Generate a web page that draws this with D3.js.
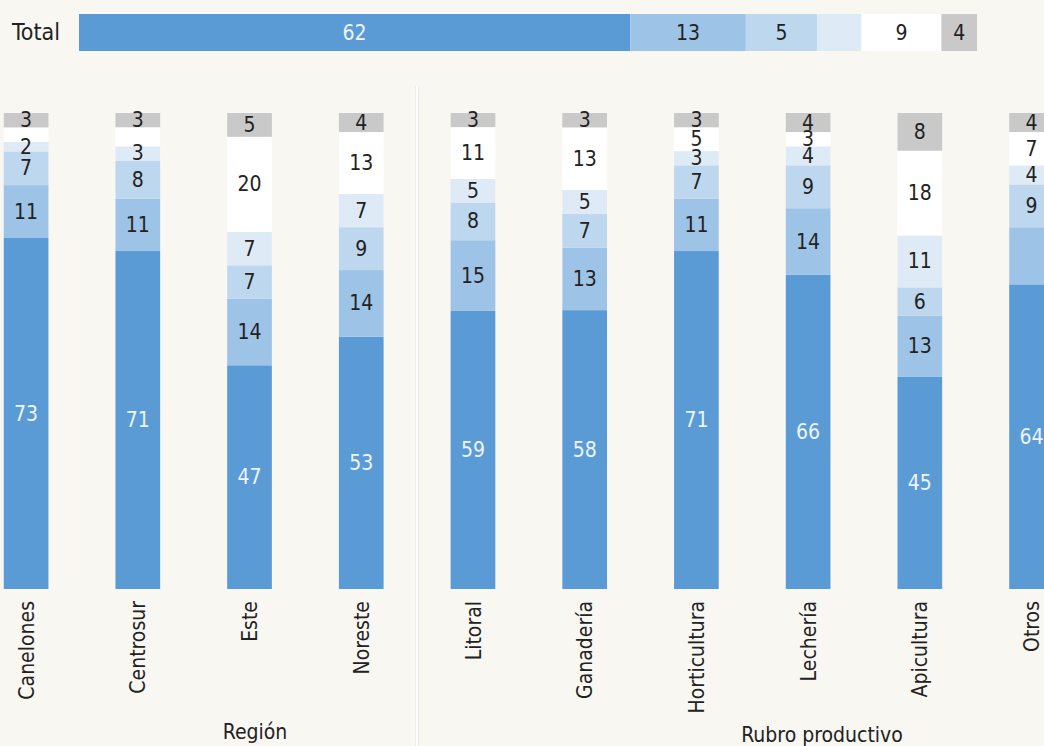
<!DOCTYPE html>
<html>
<head>
<meta charset="utf-8">
<script src="https://cdn.jsdelivr.net/npm/d3@7"></script>
<style>
  html, body { margin: 0; padding: 0; background: #f9f7f2; }
  svg { display: block; }
  text { font-family: "DejaVu Sans Condensed", "DejaVu Sans", sans-serif; font-stretch: condensed; }
</style>
</head>
<body>
<svg id="chart" width="1044" height="746"></svg>
<script>
// ---- Data ----
const categories = ["Canelones", "Centrosur", "Este", "Noreste", "Litoral", "Ganadería", "Horticultura", "Lechería", "Apicultura", "Otros"];
const groupRegion = ["Canelones", "Centrosur", "Este", "Noreste"];
const groupRubro = ["Litoral", "Ganadería", "Horticultura", "Lechería", "Apicultura", "Otros"];
const groupTitles = ["Región", "Rubro productivo"];

// series, stacked bottom to top
const seriesKeys = ["s1", "s2", "s3", "s4", "s5", "s6"];
const s1 = [73, 71, 47, 53, 59, 58, 71, 66, 45, 64];
const s2 = [11, 11, 14, 14, 15, 13, 11, 14, 13, 12];
const s3 = [7, 8, 7, 9, 8, 7, 7, 9, 6, 9];
const s4 = [2, 3, 7, 7, 5, 5, 3, 4, 11, 4];
const s5 = [3, 4, 20, 13, 11, 13, 5, 3, 18, 7];
const s6 = [3, 3, 5, 4, 3, 3, 3, 4, 8, 4];
// segments whose value label is not printed in the original
const hiddenLabels = [["Canelones", "s5"], ["Centrosur", "s5"], ["Otros", "s2"]];

const totalLabel = "Total";
const totalValues = [62, 13, 8, 5, 9, 4];
const totalLabels = ["62", "13", "5", "", "9", "4"];

const colors = ["#5b9bd5", "#9dc3e6", "#bdd7ee", "#deebf7", "#ffffff", "#c9c9c9"];

// ---- Build ----
const svg = d3.select("#chart");
const seriesArrays = [s1, s2, s3, s4, s5, s6];
const rows = categories.map((c, i) => {
  const r = { cat: c };
  seriesKeys.forEach((k, j) => r[k] = seriesArrays[j][i]);
  return r;
});
const color = d3.scaleOrdinal().domain(seriesKeys).range(colors);
const FS = 21;

// Total bar
const xT = d3.scaleLinear().domain([0, d3.sum(totalValues)]).range([79, 977]);
let acc = 0;
const totSegs = totalValues.map((v, i) => { const s = { x0: acc, x1: acc + v, i }; acc += v; return s; });
const gT = svg.append("g");
gT.selectAll("rect").data(totSegs).join("rect")
  .attr("x", d => xT(d.x0)).attr("width", d => xT(d.x1) - xT(d.x0))
  .attr("y", 14).attr("height", 37)
  .attr("fill", d => colors[d.i]);
gT.selectAll("text.v").data(totSegs).join("text").attr("class", "v")
  .attr("x", d => (xT(d.x0) + xT(d.x1)) / 2).attr("y", 33)
  .attr("dominant-baseline", "central").attr("text-anchor", "middle")
  .attr("font-size", FS)
  .attr("fill", d => d.i === 0 ? "#eef4fb" : "#222")
  .text(d => totalLabels[d.i]);
svg.append("text").attr("x", 12).attr("y", 32)
  .attr("dominant-baseline", "central").attr("font-size", 23).attr("fill", "#222")
  .text(totalLabel);

// Column chart
const x = d3.scaleBand().domain(categories).range([3.75, 1053.9]).paddingInner(0.6).paddingOuter(0);
const y = d3.scaleLinear().domain([0, 1]).range([589, 113]);
const stack = d3.stack().keys(seriesKeys).offset(d3.stackOffsetExpand);
const stacked = stack(rows);

// separator
const sepX = (x("Noreste") + x.bandwidth() + x("Litoral")) / 2;
svg.append("rect").attr("x", sepX - 2).attr("y", 86).attr("width", 4).attr("height", 660).attr("fill", "#efece6");
svg.append("rect").attr("x", sepX - 1).attr("y", 86).attr("width", 2).attr("height", 660).attr("fill", "#ffffff");

const hidden = new Set(hiddenLabels.map(h => h[0] + "|" + h[1]));
const layers = svg.append("g").selectAll("g").data(stacked).join("g")
  .attr("fill", d => color(d.key));
layers.selectAll("rect").data(d => d.map(p => ({ p, key: d.key }))).join("rect")
  .attr("x", d => x(d.p.data.cat)).attr("width", x.bandwidth())
  .attr("y", d => y(d.p[1])).attr("height", d => y(d.p[0]) - y(d.p[1]));

const labels = svg.append("g");
stacked.forEach((layer, li) => {
  layer.forEach(p => {
    if (hidden.has(p.data.cat + "|" + layer.key)) return;
    labels.append("text")
      .attr("x", x(p.data.cat) + x.bandwidth() / 2)
      .attr("y", (y(p[0]) + y(p[1])) / 2)
      .attr("dominant-baseline", "central").attr("text-anchor", "middle")
      .attr("font-size", FS)
      .attr("fill", li === 0 ? "#eef4fb" : "#222")
      .text(p.data[layer.key]);
  });
});

// category labels
svg.append("g").selectAll("text").data(categories).join("text")
  .attr("transform", d => `translate(${x(d) + x.bandwidth() / 2},601) rotate(-90)`)
  .attr("dy", "0.36em").attr("text-anchor", "end")
  .attr("font-size", FS).attr("fill", "#222")
  .text(d => d);

// group titles
svg.append("text").attr("x", 255).attr("y", 739).attr("text-anchor", "middle")
  .attr("font-size", FS).attr("fill", "#222").text(groupTitles[0]);
svg.append("text").attr("x", 822).attr("y", 742).attr("text-anchor", "middle")
  .attr("font-size", FS).attr("fill", "#222").text(groupTitles[1]);
</script>
</body>
</html>
